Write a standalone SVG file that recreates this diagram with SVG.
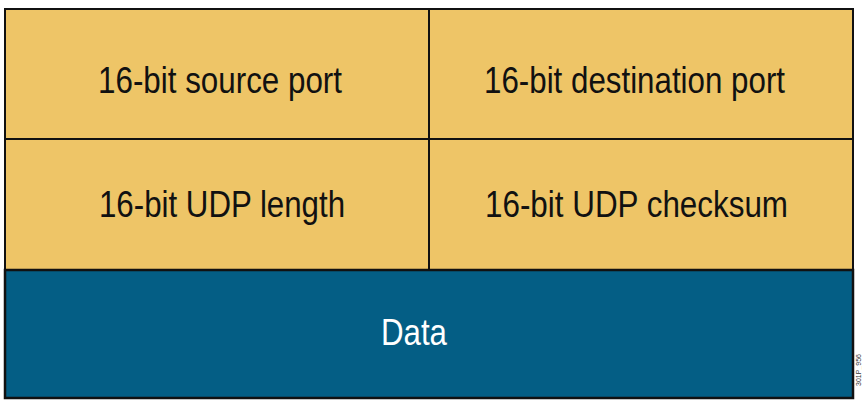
<svg xmlns="http://www.w3.org/2000/svg" width="862" height="404" viewBox="0 0 862 404">
<style>
.cell{fill:#EEC567;stroke:#111;stroke-width:2}
.data{fill:#045E85;stroke:#111;stroke-width:2.5}
.t{font-family:"Liberation Sans",Arial,sans-serif;font-size:36px;fill:#111}
.w{font-family:"Liberation Sans",Arial,sans-serif;font-size:36px;fill:#fff}
.id{font-family:"Liberation Sans",Arial,sans-serif;font-size:7px;fill:#333}
</style>
<rect x="0" y="0" width="862" height="404" fill="#fff"/>
<g id="source-port">
<rect class="cell" x="5" y="9" width="424" height="130"/>
<text class="t" x="98" y="93" textLength="244" lengthAdjust="spacingAndGlyphs">16-bit source port</text>
</g>
<g id="destination-port">
<rect class="cell" x="429" y="9" width="424" height="130"/>
<text class="t" x="484" y="93" textLength="301" lengthAdjust="spacingAndGlyphs">16-bit destination port</text>
</g>
<g id="udp-length">
<rect class="cell" x="5" y="139" width="424" height="131"/>
<text class="t" x="99" y="217" textLength="246" lengthAdjust="spacingAndGlyphs">16-bit UDP length</text>
</g>
<g id="udp-checksum">
<rect class="cell" x="429" y="139" width="424" height="131"/>
<text class="t" x="485" y="217" textLength="303" lengthAdjust="spacingAndGlyphs">16-bit UDP checksum</text>
</g>
<g id="data">
<rect class="data" x="5" y="270" width="848" height="128"/>
<text class="w" x="381" y="345" textLength="66" lengthAdjust="spacingAndGlyphs">Data</text>
</g>
<g id="connectors"></g>
<text class="id" transform="translate(861,386) rotate(-90)">301P_956</text>
</svg>
